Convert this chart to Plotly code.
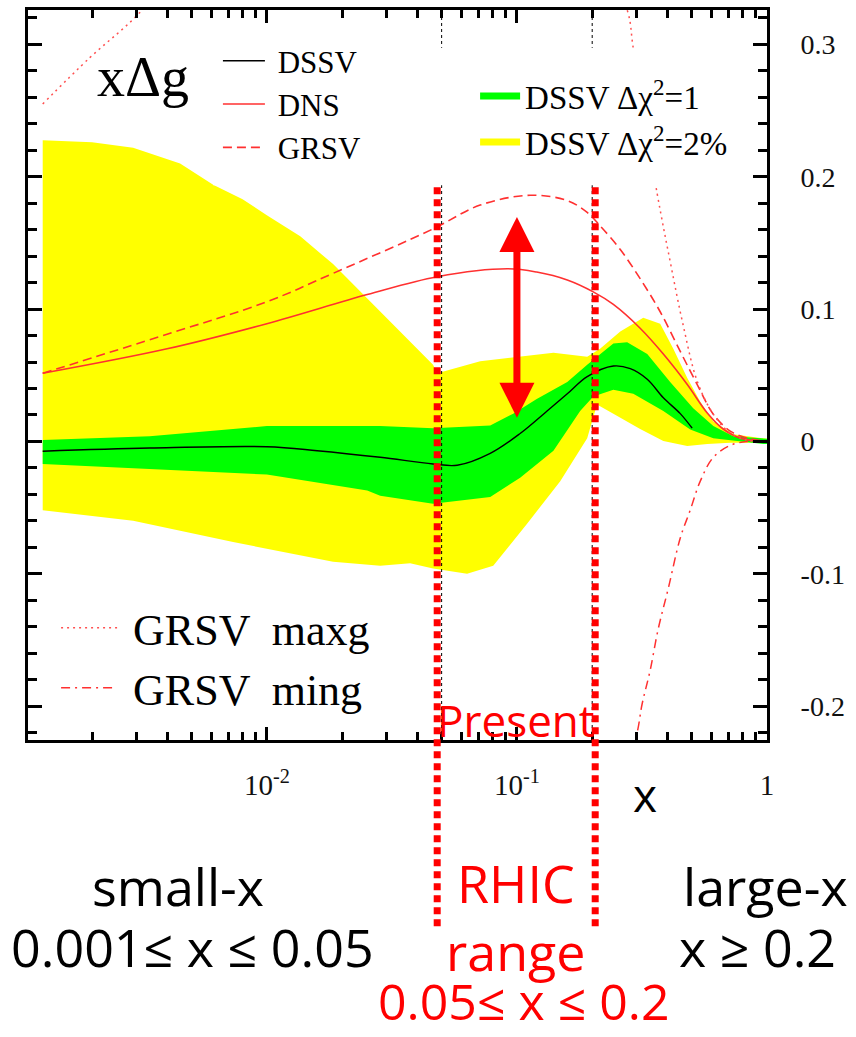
import math
import plotly.graph_objects as go

# ---------------- data (x values, xΔg values) ----------------
# DSSV central curve
dssv_x = [0.00127, 0.0034, 0.0100, 0.0159, 0.0284, 0.0462, 0.0577, 0.0782, 0.103, 0.132,
          0.159, 0.191, 0.243, 0.284, 0.332, 0.385, 0.450, 0.502]
dssv_y = [-0.0074, -0.005, -0.004, -0.007, -0.012, -0.017, -0.018, -0.009, 0.006, 0.023,
          0.036, 0.049, 0.057, 0.055, 0.047, 0.033, 0.021, 0.010]

# DSSV Δχ²=1 band (green)
chi1_up_x = [0.00127, 0.0034, 0.0100, 0.0284, 0.0462, 0.0782, 0.0966, 0.120, 0.159, 0.191,
             0.243, 0.276, 0.332, 0.410, 0.507, 0.610, 0.733, 0.966, 1.0]
chi1_up_y = [0.001, 0.004, 0.0116, 0.0116, 0.010, 0.012, 0.021, 0.032, 0.045, 0.058,
             0.074, 0.075, 0.066, 0.045, 0.025, 0.0116, 0.004, 0.0025, 0.002]
chi1_lo_x = [0.00127, 0.0100, 0.0252, 0.0284, 0.0462, 0.0782, 0.103, 0.140, 0.179, 0.202,
             0.243, 0.292, 0.385, 0.493, 0.610, 0.966, 1.0]
chi1_lo_y = [-0.017, -0.025, -0.037, -0.041, -0.047, -0.042, -0.0275, -0.007, 0.023, 0.034,
             0.039, 0.036, 0.023, 0.009, 0.0025, -0.002, -0.002]

# DSSV Δχ²=2% band (yellow)
chi2_up_x = [0.00127, 0.00200, 0.00292, 0.0045, 0.0061, 0.0080, 0.0100, 0.0136, 0.0184, 0.0252,
             0.0340, 0.0462, 0.048, 0.0713, 0.140, 0.191, 0.215, 0.259, 0.320, 0.374,
             0.422, 0.480, 0.541, 0.610, 0.733, 0.966, 1.0]
chi2_up_y = [0.2275, 0.226, 0.222, 0.210, 0.194, 0.183, 0.171, 0.155, 0.134, 0.108,
             0.083, 0.058, 0.0515, 0.0605, 0.067, 0.064, 0.070, 0.083, 0.0935, 0.089,
             0.070, 0.048, 0.030, 0.015, 0.0055, 0.002, 0.002]
chi2_lo_x = [0.00127, 0.00292, 0.00733, 0.0184, 0.0284, 0.0374, 0.0462, 0.0632, 0.0804, 0.110,
             0.149, 0.191, 0.209, 0.243, 0.311, 0.385, 0.480, 0.577, 0.713, 1.0]
chi2_lo_y = [-0.052, -0.060, -0.076, -0.091, -0.094, -0.092, -0.096, -0.100, -0.094, -0.062,
             -0.030, 0.0025, 0.028, 0.021, 0.0094, 0.0003, -0.0035, -0.002, -0.001, -0.001]

# DNS (solid red)
dns_x = [0.00127, 0.00399, 0.0100, 0.0252, 0.048, 0.0914, 0.120, 0.159, 0.202, 0.243,
         0.311, 0.385, 0.480, 0.577, 0.668, 0.782, 1.0]
dns_y = [0.0515, 0.070, 0.089, 0.111, 0.1245, 0.1305, 0.128, 0.122, 0.113, 0.1035,
         0.0855, 0.066, 0.043, 0.0215, 0.0094, 0.0025, 0.0]

# GRSV (dashed red)
grsv_x = [0.00127, 0.00399, 0.0100, 0.0184, 0.0462, 0.0713, 0.113, 0.159, 0.191, 0.215,
          0.259, 0.311, 0.374, 0.450, 0.526, 0.610, 0.713, 0.834, 1.0]
grsv_y = [0.0515, 0.081, 0.1055, 0.127, 0.1606, 0.1786, 0.186, 0.182, 0.173, 0.163,
          0.145, 0.123, 0.098, 0.068, 0.043, 0.0206, 0.0078, 0.0026, 0.0]

# GRSV maxg (dotted) - runs above the frame at intermediate x
maxg_x = [0.00127, 0.00196, 0.00303, 0.0050, 0.0100, 0.0500, 0.100, 0.200, 0.276, 0.292,
          0.364, 0.410, 0.462, 0.526, 0.610, 0.713, 0.834, 1.0]
maxg_y = [0.255, 0.29, 0.322, 0.37, 0.42, 0.45, 0.44, 0.38, 0.326, 0.297,
          0.187, 0.136, 0.088, 0.0455, 0.0206, 0.0063, 0.001, 0.0]

# GRSV ming (dash-dot) - runs below the frame at intermediate x
ming_x = [0.100, 0.200, 0.297, 0.317, 0.341, 0.367, 0.403, 0.450, 0.493, 0.541,
          0.610, 0.713, 0.834, 1.0]
ming_y = [-0.30, -0.31, -0.226, -0.198, -0.173, -0.142, -0.111, -0.073, -0.052, -0.030,
          -0.012, -0.003, 0.0, 0.0]

# axis ticks
x_tickvals = [0.01, 0.1, 1]
x_ticktext = ["10<sup>-2</sup>", "10<sup>-1</sup>", "1"]
x_minor = [m * 10.0 ** e for e in (-3, -2, -1) for m in range(2, 10)]
y_tickvals = [-0.2, -0.1, 0.0, 0.1, 0.2, 0.3]
y_ticktext = ["-0.2", "-0.1", "0", "0.1", "0.2", "0.3"]

# RHIC range markers
rhic_lo, rhic_hi = 0.05, 0.2
rhic_marks = [0.048, 0.2056]
arrow_x, arrow_top, arrow_bottom = 0.1, 0.1696, 0.0168

SERIF = "Liberation Serif"
HAND = "Open Sans"
RED = "#ff0000"
LRED = "#ff3030"
NB = "\u00a0"

fig = go.Figure()

def band(ux, uy, lx, ly, color):
    return go.Scatter(x=ux + lx[::-1], y=uy + ly[::-1], mode="lines", fill="toself",
                      fillcolor=color, line=dict(width=0), showlegend=False, hoverinfo="skip")

fig.add_trace(band(chi2_up_x, chi2_up_y, chi2_lo_x, chi2_lo_y, "#ffff00"))
fig.add_trace(band(chi1_up_x, chi1_up_y, chi1_lo_x, chi1_lo_y, "#00ff00"))

fig.add_trace(go.Scatter(x=dssv_x, y=dssv_y, mode="lines", name=NB + "DSSV", line_shape="spline",
                         line=dict(color="black", width=1.4), legend="legend"))
fig.add_trace(go.Scatter(x=dns_x, y=dns_y, mode="lines", name=NB + "DNS", line_shape="spline",
                         line=dict(color=LRED, width=1.6), legend="legend"))
fig.add_trace(go.Scatter(x=grsv_x, y=grsv_y, mode="lines", name=NB + "GRSV", line_shape="spline",
                         line=dict(color=LRED, width=1.6, dash="9px,5px"), legend="legend"))

fig.add_trace(go.Scatter(x=[None], y=[None], mode="lines", name="DSSV Δχ<sup>2</sup>=1",
                         line=dict(color="#00ff00", width=7), legend="legend2"))
fig.add_trace(go.Scatter(x=[None], y=[None], mode="lines", name="DSSV Δχ<sup>2</sup>=2%",
                         line=dict(color="#ffff00", width=7), legend="legend2"))

fig.add_trace(go.Scatter(x=maxg_x, y=maxg_y, mode="lines", name=NB + "GRSV  maxg",
                         line_shape="spline",
                         line=dict(color="#ff5050", width=1.5, dash="2px,4px"), legend="legend3"))
fig.add_trace(go.Scatter(x=ming_x, y=ming_y, mode="lines", name=NB + "GRSV  ming",
                         line_shape="spline",
                         line=dict(color="#ff3030", width=1.5, dash="9px,5px,2px,5px"),
                         legend="legend3"))

shapes = []
for xv in (rhic_lo, rhic_hi):
    shapes.append(dict(type="line", xref="x", yref="paper", x0=xv, x1=xv, y0=0, y1=1,
                       layer="above", line=dict(color="black", width=1, dash="3px,3px")))
# white legend box of the original figure
shapes.append(dict(type="rect", xref="x", yref="y", x0=0.0061, x1=0.818, y0=0.1935, y1=0.2975,
                   layer="above", fillcolor="white", line=dict(width=0)))
for xv in rhic_marks:
    shapes.append(dict(type="line", xref="x", yref="paper", x0=xv, x1=xv, y0=-0.2551, y1=0.764,
                       layer="above", line=dict(color=RED, width=7, dash="7px,5px")))


def label(text, x, y, size, color, family=HAND, xanchor="center"):
    return dict(text=text, xref="paper", yref="paper", x=x, y=y, xanchor=xanchor,
                yanchor="middle", showarrow=False, font=dict(family=family, size=size, color=color))


annotations = [
    label("xΔg", 0.0907, 0.908, 56, "black", family=SERIF, xanchor="left"),
    dict(text="", x=math.log10(arrow_x), y=arrow_top, ax=math.log10(arrow_x), ay=arrow_bottom,
         xref="x", yref="y", axref="x", ayref="y", showarrow=True, arrowside="end+start",
         arrowhead=2, startarrowhead=2, arrowsize=1, startarrowsize=1, arrowwidth=7,
         arrowcolor=RED),
    label("Present", 0.660, 0.0273, 44, RED),
    label("x", 0.835, -0.0737, 46, "black"),
    label("small-x", 0.203, -0.1992, 52, "black"),
    label("0.001≤ x ≤ 0.05", 0.222, -0.2831, 52, "black"),
    label("RHIC", 0.660, -0.1950, 52, RED),
    label("range", 0.660, -0.2879, 52, RED),
    label("0.05≤ x ≤ 0.2", 0.671, -0.3581, 50, RED),
    label("large-x", 0.9986, -0.1992, 52, "black"),
    label("x ≥ 0.2", 0.9865, -0.2831, 52, "black"),
]

legend_common = dict(xanchor="left", yanchor="top", bgcolor="rgba(0,0,0,0)", borderwidth=0,
                     tracegroupgap=0)

fig.update_layout(
    width=856, height=1037,
    margin=dict(l=28, r=89, t=7, b=297),
    paper_bgcolor="white", plot_bgcolor="white",
    hovermode=False,
    shapes=shapes, annotations=annotations,
    legend=dict(x=0.257, y=0.967, itemwidth=42,
                font=dict(family=SERIF, size=31, color="black"), **legend_common),
    legend2=dict(x=0.605, y=0.9205, itemwidth=40,
                 font=dict(family=SERIF, size=33, color="black"), **legend_common),
    legend3=dict(x=0.038, y=0.202, itemwidth=56,
                 font=dict(family=SERIF, size=44, color="black"), **legend_common),
    xaxis=dict(type="log", range=[-2.955, 0], tickvals=x_tickvals, ticktext=x_ticktext,
               ticks="inside", ticklen=13, tickwidth=3, tickcolor="black",
               minor=dict(tickvals=x_minor, ticks="inside", ticklen=8, tickwidth=3, tickcolor="black",
                          showgrid=False),
               showline=True, linewidth=3, linecolor="black", mirror="allticks",
               showgrid=False, zeroline=False, ticklabelstandoff=17,
               tickfont=dict(family=SERIF, size=29, color="#111")),
    yaxis=dict(range=[-0.2256, 0.326], side="right", tickvals=y_tickvals, ticktext=y_ticktext,
               ticks="inside", ticklen=14, tickwidth=3, tickcolor="black",
               minor=dict(tickmode="linear", tick0=0, dtick=0.02, ticks="inside", ticklen=9,
                          tickwidth=3, tickcolor="black", showgrid=False),
               showline=True, linewidth=3, linecolor="black", mirror="allticks",
               showgrid=False, zeroline=False, ticklabelstandoff=25,
               tickfont=dict(family=SERIF, size=28, color="#111")),
)

fig.write_html("out.html", config={"displayModeBar": False},
               post_script="document.body.style.margin='0';")
